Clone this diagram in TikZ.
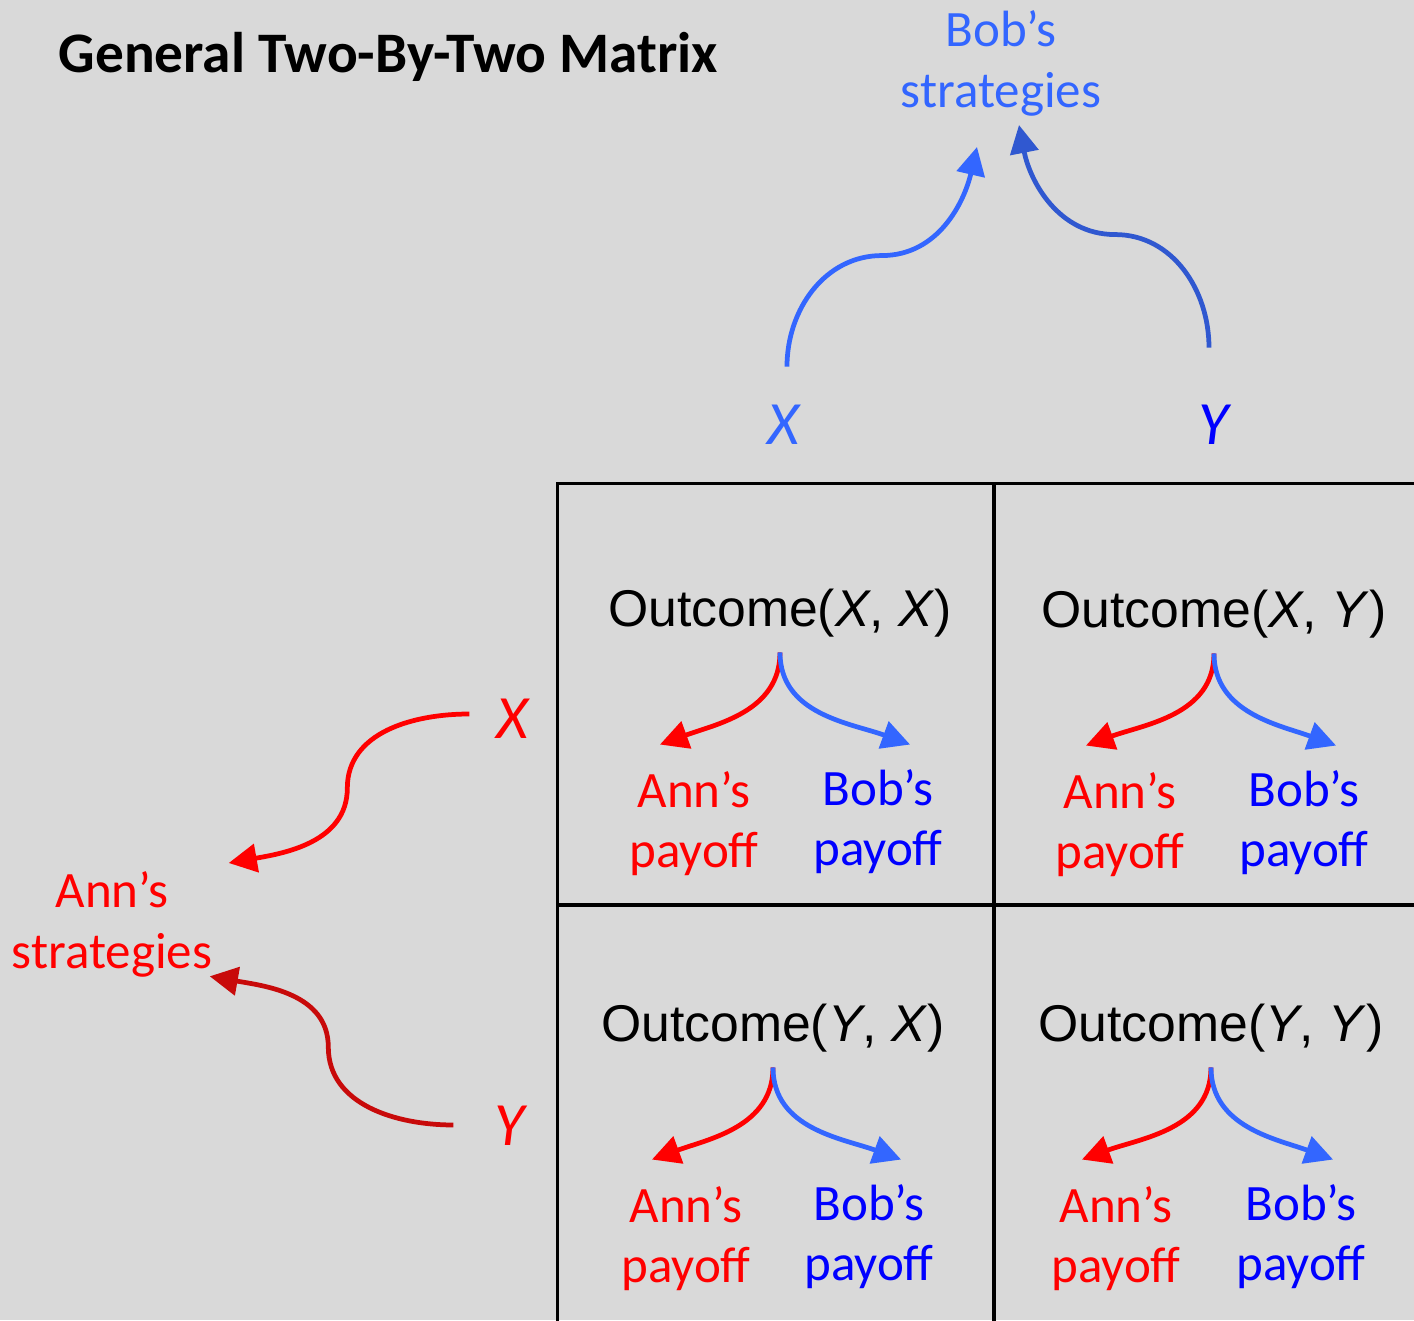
\documentclass[tikz,border=0pt]{standalone}
\usepackage{fontspec}
\setmainfont{Carlito}
\newfontfamily\outfont{Liberation Sans}
\usetikzlibrary{
    arrows.meta,
    positioning,
}
\definecolor{bg}{HTML}{D9D9D9}
\definecolor{lblue}{HTML}{3366FF}
\definecolor{dblue}{HTML}{3058D0}
\definecolor{pblue}{HTML}{0000FF}
\definecolor{pred}{HTML}{FF0000}
\definecolor{dred}{HTML}{C80A0A}

\begin{document}
\begin{tikzpicture}[
        x=0.01cm, y=0.01cm,
        cell/.style={rectangle, draw=black, line width=0.85pt, minimum width=4.36cm, minimum height=4.21cm, inner sep=0pt},
        outcome/.style={anchor=base, inner sep=4pt, font=\outfont\fontsize{14.7pt}{17pt}\selectfont},
        payoff/.style={align=center, inner sep=0pt, font=\fontsize{14.5pt}{17.2pt}\selectfont},
        strat/.style={align=center, inner sep=0pt, font=\fontsize{14.5pt}{17.4pt}\selectfont},
        choice/.style={inner sep=0pt, font=\fontsize{17.5pt}{20pt}\selectfont\itshape},
        arr/.style={line width=1.35pt, -{Triangle[length=8pt,width=8pt]}}
        ]
        \fill[bg] (0,0) rectangle (1414,1320);
        \useasboundingbox (0,0) rectangle (1414,1320);
        \node[inner sep=0pt, anchor=base west, font=\bfseries\fontsize{16.3pt}{19pt}\selectfont] (TITLE) at (58,1247) {General Two-By-Two Matrix};
        % players and their strategies
        \node[strat, text=lblue, anchor=south] (BOB) at (1001,1203) {Bob’s\\strategies};
        \node[choice, text=lblue] (BX) at (783,895) {X};
        \node[choice, text=pblue] (BY) at (1213,895) {Y};
        \node[strat, text=pred, anchor=north] (ANN) at (112,449) {Ann’s\\strategies};
        \node[choice, text=pred]  (AX) at (512,601) {X};
        \node[choice, text=pred]  (AY) at (509,194) {Y};
        % the matrix
        \node[cell] (CXX) at (776,625.5) {};
        \node[cell] (CXY) at (1212,625.5) {};
        \node[cell] (CYX) at (776,204.5) {};
        \node[cell] (CYY) at (1212,204.5) {};
        \node[outcome] (OXX) at (780,693)  {Outcome(\textit{X}, \textit{X})};
        \node[outcome] (OXY) at (1214,692) {Outcome(\textit{X}, \textit{Y})};
        \node[outcome] (OYX) at (773,278)  {Outcome(\textit{Y}, \textit{X})};
        \node[outcome] (OYY) at (1211,278) {Outcome(\textit{Y}, \textit{Y})};
        \node[payoff, text=pred]  (PAXX) [below=1.18cm of OXX.south, xshift=-0.86cm] {Ann’s\\payoff};
        \node[payoff, text=pblue] (PBXX) [below=1.16cm of OXX.south, xshift=0.98cm]  {Bob’s\\payoff};
        \node[payoff, text=pred]  (PAXY) [below=1.18cm of OXY.south, xshift=-0.94cm] {Ann’s\\payoff};
        \node[payoff, text=pblue] (PBXY) [below=1.16cm of OXY.south, xshift=0.90cm]  {Bob’s\\payoff};
        \node[payoff, text=pred]  (PAYX) [below=1.18cm of OYX.south, xshift=-0.87cm] {Ann’s\\payoff};
        \node[payoff, text=pblue] (PBYX) [below=1.16cm of OYX.south, xshift=0.96cm]  {Bob’s\\payoff};
        \node[payoff, text=pred]  (PAYY) [below=1.18cm of OYY.south, xshift=-0.95cm] {Ann’s\\payoff};
        \node[payoff, text=pblue] (PBYY) [below=1.16cm of OYY.south, xshift=0.90cm]  {Bob’s\\payoff};
        \draw[arr, pred]  (OXX.south) to[out=-90,in=20]  ([shift={(-34,26)}]PAXX.north);
        \draw[arr, lblue] (OXX.south) to[out=-90,in=160] ([shift={(32,24)}]PBXX.north);
        \draw[arr, pred]  (OXY.south) to[out=-90,in=20]  ([shift={(-34,26)}]PAXY.north);
        \draw[arr, lblue] (OXY.south) to[out=-90,in=160] ([shift={(32,24)}]PBXY.north);
        \draw[arr, pred]  (OYX.south) to[out=-90,in=20]  ([shift={(-34,26)}]PAYX.north);
        \draw[arr, lblue] (OYX.south) to[out=-90,in=160] ([shift={(32,24)}]PBYX.north);
        \draw[arr, pred]  (OYY.south) to[out=-90,in=20]  ([shift={(-34,26)}]PAYY.north);
        \draw[arr, lblue] (OYY.south) to[out=-90,in=160] ([shift={(32,24)}]PBYY.north);
        % strategies point to their player
        \draw[arr, lblue] ([shift={(4,38)}]BX.north) to[out=90,in=180] ++(95,111) to[out=0,in=-103] ([shift={(-24,-30)}]BOB.south);
        \draw[arr, dblue] ([shift={(-4,57)}]BY.north) to[out=90,in=0] ++(-94,113) to[out=180,in=-79] ([shift={(18,-8)}]BOB.south);
        \draw[arr, pred]  ([shift={(-26,5)}]AX.west) to[out=180,in=90] ++(-122,-74) to[out=-90,in=10] ([shift={(16,8)}]ANN.north east);
        \draw[arr, dred]  ([shift={(-40,1)}]AY.west) to[out=180,in=-90] ++(-125,78) to[out=90,in=-10] ([shift={(-3,2)}]ANN.south east);
        %\draw[arr, pred] (AY.west) -- (ANN.east);
\end{tikzpicture}
\end{document}
